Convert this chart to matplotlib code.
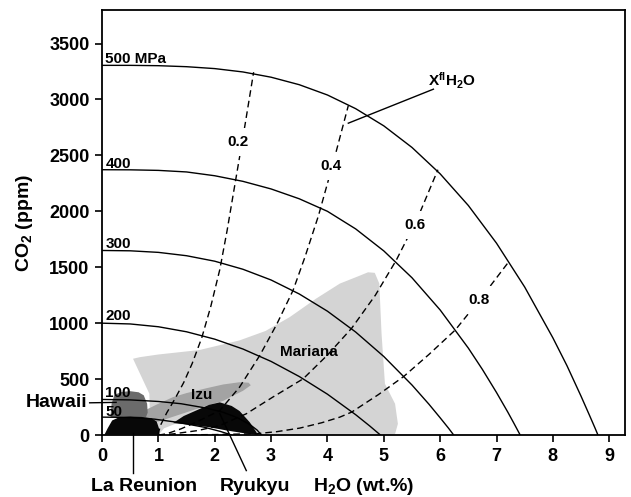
import matplotlib
matplotlib.use('Agg')
import matplotlib.pyplot as plt

plt.rcParams['font.family'] = ['Liberation Sans', 'DejaVu Sans']
plt.rcParams['font.weight'] = 'bold'
plt.rcParams['axes.labelweight'] = 'bold'
plt.rcParams['mathtext.fontset'] = 'custom'
plt.rcParams['mathtext.rm'] = 'Liberation Sans:bold'
plt.rcParams['mathtext.it'] = 'Liberation Sans:bold'
plt.rcParams['mathtext.bf'] = 'Liberation Sans:bold'

# isobars (MPa): H2O wt.% vs CO2 ppm
p500_x = [0, 0.5, 1.0, 1.5, 2.0, 2.5, 3.0, 3.5, 4.0, 4.5, 5.0, 5.5, 6.0, 6.5, 7.0, 7.5, 8.0, 8.25, 8.5, 8.65, 8.75, 8.8]
p500_y = [3305, 3305, 3302, 3293, 3276, 3246, 3199, 3132, 3040, 2918, 2764, 2571, 2335, 2052, 1715, 1323, 869, 620, 347, 176, 60, 0]
p400_x = [0, 0.5, 1.0, 1.5, 2.0, 2.5, 3.0, 3.5, 4.0, 4.5, 5.0, 5.5, 6.0, 6.5, 6.75, 7.0, 7.2, 7.3, 7.42]
p400_y = [2372, 2371, 2366, 2352, 2318, 2268, 2200, 2112, 2000, 1843, 1646, 1406, 1118, 777, 586, 380, 205, 113, 0]
p300_x = [0, 0.5, 1.0, 1.5, 2.0, 2.5, 3.0, 3.5, 4.0, 4.5, 5.0, 5.5, 5.8, 6.0, 6.15, 6.24]
p300_y = [1650, 1647, 1633, 1603, 1554, 1482, 1386, 1261, 1107, 921, 702, 447, 276, 154, 60, 0]
p200_x = [0, 0.5, 1.0, 1.5, 2.0, 2.5, 3.0, 3.5, 4.0, 4.5, 4.75, 4.94]
p200_y = [1000, 993, 968, 923, 857, 769, 658, 523, 365, 182, 81, 0]
p100_x = [0, 0.5, 1.0, 1.4, 1.86, 2.15, 2.4, 2.62, 2.75, 2.83]
p100_y = [318, 314, 300, 280, 240, 203, 155, 95, 45, 0]
p50_x = [0, 0.5, 0.93, 1.35, 1.82, 2.1, 2.3]
p50_y = [160, 157, 142, 113, 69, 32, 0]

# X(fl) H2O isopleths
x02_x = [0.99, 1.04, 1.15, 1.29, 1.45, 1.6, 1.77, 1.93, 2.09, 2.22, 2.36, 2.52, 2.69]
x02_y = [0, 90, 200, 320, 470, 640, 870, 1150, 1480, 1830, 2247, 2720, 3244]
x04_x = [1.0, 1.14, 1.4, 1.67, 2.09, 2.44, 2.8, 3.1, 3.39, 3.6, 3.84, 4.1, 4.37]
x04_y = [0, 10, 55, 115, 219, 428, 712, 990, 1294, 1590, 1960, 2430, 2945]
x06_x = [1.0, 1.26, 1.7, 2.09, 2.56, 3.03, 3.57, 4.0, 4.43, 4.85, 5.22, 5.6, 5.96]
x06_y = [0, 10, 40, 85, 190, 339, 503, 715, 955, 1250, 1562, 1940, 2372]
x08_x = [1.0, 2.0, 2.74, 3.1, 3.51, 3.9, 4.22, 4.43, 4.9, 5.35, 5.8, 6.27, 6.75, 7.22]
x08_y = [0, 4, 12, 30, 62, 110, 160, 205, 360, 522, 720, 940, 1240, 1551]

# melt inclusion fields
mariana_x = [0.55, 0.67, 1.0, 1.73, 2.44, 2.9, 3.33, 3.8, 4.22, 4.55, 4.72, 4.84, 4.92, 4.96, 5.02, 5.2, 5.25, 5.2, 5.12,
             2.77, 2.5, 2.2, 1.9, 1.6, 1.3, 1.1, 1.0, 0.85, 0.84, 0.7]
mariana_y = [682, 696, 720, 760, 846, 930, 1054, 1220, 1354, 1420, 1455, 1450, 1354, 906, 458, 279, 100, 10, 0,
             0, 18, 42, 70, 90, 100, 60, 0, 150, 369, 520]
izu_x = [0.62, 0.8, 0.96, 1.26, 1.5, 1.85, 2.15, 2.44, 2.6, 2.64, 2.5, 2.3, 2.15, 1.9, 1.6, 1.3, 1.0, 0.8]
izu_y = [160, 230, 270, 339, 375, 418, 452, 472, 468, 445, 395, 345, 305, 270, 220, 170, 120, 110]
hawaii_x = [0.15, 0.17, 0.22, 0.35, 0.5, 0.65, 0.74, 0.8, 0.81, 0.78]
hawaii_y = [160, 280, 360, 385, 392, 382, 355, 280, 200, 160]
reunion_x = [0.04, 0.1, 0.18, 0.3, 0.5, 0.7, 0.88, 0.97, 1.01, 1.02]
reunion_y = [0, 60, 130, 158, 165, 162, 150, 120, 60, 0]
ryukyu_x = [1.26, 1.45, 1.67, 1.9, 2.09, 2.3, 2.44, 2.62, 2.72, 2.77, 2.5, 2.2, 1.9, 1.6]
ryukyu_y = [107, 170, 219, 270, 292, 260, 215, 115, 40, 0, 18, 42, 70, 90]

isobars = [(p500_x, p500_y, '500 MPa', 3323), (p400_x, p400_y, '400', 2390),
           (p300_x, p300_y, '300', 1670), (p200_x, p200_y, '200', 1028),
           (p100_x, p100_y, '100', 340), (p50_x, p50_y, '50', 172)]
isopleths = [(x02_x, x02_y, '0.2', 2.42, 2617), (x04_x, x04_y, '0.4', 4.06, 2404),
             (x06_x, x06_y, '0.6', 5.55, 1875), (x08_x, x08_y, '0.8', 6.69, 1210)]

fig = plt.figure(figsize=(6.31, 4.97), dpi=100)
ax = fig.add_axes([0.1617, 0.1247, 0.8288, 0.8552])

ax.fill(mariana_x, mariana_y, color='#d4d4d4', lw=0, zorder=1)
ax.fill(izu_x, izu_y, color='#a3a3a3', lw=0, zorder=2)
ax.fill(hawaii_x, hawaii_y, color='#6b6b6b', lw=0, zorder=2)
ax.fill(reunion_x, reunion_y, color='#080808', lw=0, zorder=3)
ax.fill(ryukyu_x, ryukyu_y, color='#080808', lw=0, zorder=3)

for xs, ys, lab, ly in isobars:
    ax.plot(xs, ys, color='black', lw=1.0, zorder=4)
    ax.text(0.06, ly, lab, fontsize=11, ha='left', va='baseline', zorder=6)

for xs, ys, lab, lx, ly in isopleths:
    ax.plot(xs, ys, color='black', lw=1.0, ls=(0, (4.8, 2.9)), zorder=4)
    ax.text(lx, ly, lab, fontsize=11, ha='center', va='center', zorder=5,
            bbox=dict(facecolor='white', edgecolor='none', pad=5))

ax.plot([4.37, 5.88], [2788, 3092], color='black', lw=1.0, zorder=4)
ax.text(5.79, 3163, r'X$^{fl}$H$_2$O', fontsize=11, ha='left', va='center')

ax.text(1.77, 354, 'Izu', fontsize=11, ha='center', va='center', zorder=6)
ax.text(3.67, 741, 'Mariana', fontsize=11, ha='center', va='center', zorder=6)

# outside labels with leaders
ax.plot([-0.22, 0.25], [288, 292], color='black', lw=1.0, clip_on=False, zorder=6)
ax.text(-0.26, 290, 'Hawaii', fontsize=14, ha='right', va='center')
ax.plot([0.55, 0.55], [20, -336], color='black', lw=1.0, clip_on=False, zorder=6)
ax.text(0.75, -461, 'La Reunion', fontsize=14, ha='center', va='center')
ax.plot([2.09, 2.56], [190, -318], color='black', lw=1.0, clip_on=False, zorder=6)
ax.text(2.71, -461, 'Ryukyu', fontsize=14, ha='center', va='center')

ax.set_xlim(0, 9.28)
ax.set_ylim(0, 3800)
ax.set_xticks(range(0, 10))
ax.set_yticks(range(0, 4000, 500))
ax.tick_params(labelsize=13, length=5, width=1.2, pad=4)
for s in ax.spines.values():
    s.set_linewidth(1.3)
ax.set_xlabel('H$_2$O (wt.%)', fontsize=14, fontweight='bold', labelpad=8)
ax.set_ylabel('CO$_2$ (ppm)', fontsize=14, fontweight='bold', labelpad=10)

fig.savefig('out.png', dpi=100)
